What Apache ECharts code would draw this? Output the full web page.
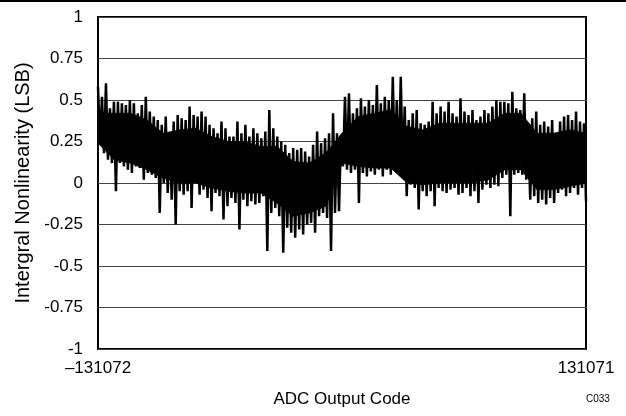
<!DOCTYPE html>
<html>
<head>
<meta charset="utf-8">
<script src="https://cdn.jsdelivr.net/npm/echarts@6/dist/echarts.min.js"></script>
<style>
  html, body { margin: 0; padding: 0; background: #fff; }
  #CajaGrafico { width: 626px; height: 416px; }
</style>
</head>
<body>
<div id="CajaGrafico"></div>
<script>
// code range of the ADC
var codeStart = -131072;
var codeEnd = 131071;
var xTickLabels = ['\u2013131072', '131071'];
var yTicks = [-1, -0.75, -0.5, -0.25, 0, 0.25, 0.5, 0.75, 1];

// INL, upper and lower swing of each short code window (left to right)
var inlHigh = [
  0.58, 0.52, 0.60, 0.45, 0.49, 0.49, 0.48, 0.47, 0.50, 0.48,
  0.42, 0.47, 0.52, 0.43, 0.40, 0.38, 0.35, 0.40, 0.30, 0.37,
  0.41, 0.39, 0.38, 0.46, 0.41, 0.40, 0.43, 0.40, 0.35, 0.33,
  0.30, 0.37, 0.33, 0.28, 0.28, 0.37, 0.30, 0.35, 0.28, 0.33,
  0.30, 0.27, 0.31, 0.44, 0.33, 0.28, 0.25, 0.23, 0.18, 0.21,
  0.20, 0.21, 0.19, 0.16, 0.23, 0.31, 0.24, 0.27, 0.30, 0.42,
  0.30, 0.29, 0.52, 0.54, 0.42, 0.45, 0.51, 0.46, 0.50, 0.47,
  0.59, 0.48, 0.52, 0.50, 0.64, 0.50, 0.64, 0.46, 0.38, 0.42,
  0.44, 0.36, 0.35, 0.37, 0.49, 0.42, 0.46, 0.43, 0.49, 0.42,
  0.40, 0.51, 0.43, 0.41, 0.44, 0.38, 0.40, 0.44, 0.42, 0.46,
  0.50, 0.49, 0.49, 0.48, 0.55, 0.45, 0.44, 0.54, 0.32, 0.39,
  0.43, 0.35, 0.37, 0.34, 0.38, 0.30, 0.37, 0.40, 0.41, 0.38,
  0.43, 0.37, 0.36
];
var inlLow = [
  0.24, 0.18, 0.14, 0.12, -0.05, 0.12, 0.10, 0.08, 0.06, 0.10,
  0.09, 0.02, 0.06, 0.05, 0.03, -0.18, 0.00, -0.06, -0.10, -0.25,
  -0.05, -0.07, -0.05, -0.15, 0.00, -0.07, -0.04, -0.09, -0.17, -0.06,
  -0.08, -0.22, -0.14, -0.09, -0.12, -0.28, -0.10, -0.14, -0.11, -0.13,
  -0.12, -0.08, -0.41, -0.18, -0.15, -0.20, -0.42, -0.27, -0.30, -0.33,
  -0.28, -0.31, -0.25, -0.24, -0.30, -0.20, -0.18, -0.21, -0.41, -0.18,
  -0.17, 0.10, 0.08, 0.06, 0.08, -0.12, 0.06, 0.04, 0.07, 0.05,
  0.08, 0.04, 0.08, 0.05, 0.10, 0.06, 0.08, -0.08, -0.01, -0.03,
  -0.16, -0.05, -0.08, -0.05, -0.14, -0.03, -0.05, -0.06, -0.04, -0.03,
  -0.07, -0.06, -0.03, -0.08, -0.05, -0.12, -0.04, -0.01, -0.03, -0.01,
  -0.02, 0.03, 0.05, -0.20, 0.05, 0.06, 0.05, 0.02, -0.10, -0.08,
  -0.12, -0.10, -0.13, -0.09, -0.12, -0.06, -0.04, -0.08, -0.06, -0.03,
  -0.07, -0.03, -0.11
];

// solid core of the trace (where the noise is dense), coarser windows
var bodyHigh = [
  0.42, 0.42, 0.42, 0.38, 0.30, 0.32, 0.33, 0.28, 0.25, 0.25,
  0.22, 0.22, 0.13, 0.12, 0.18, 0.30, 0.40, 0.42, 0.44, 0.34,
  0.32, 0.36, 0.36, 0.36, 0.36, 0.42, 0.42, 0.30, 0.30, 0.32,
  0.30
];
var bodyLow = [
  0.24, 0.14, 0.12, 0.08, 0.03, 0.00, 0.00, -0.03, -0.05, -0.06,
  -0.06, -0.12, -0.20, -0.18, -0.14, 0.12, 0.10, 0.09, 0.09, 0.00,
  -0.01, 0.00, 0.00, 0.00, 0.02, 0.08, 0.08, -0.04, -0.04, -0.02,
  0.00
];

document.addEventListener('DOMContentLoaded', function () {
    var ChartDOM = document.getElementById('CajaGrafico');
    var myChart = echarts.init(ChartDOM);

    // zig-zag between the two swings, spread over the whole code range
    var nPts = inlHigh.length * 2;
    var step = (codeEnd - codeStart) / (nPts - 1);
    var inlData = [];
    for (var i = 0; i < inlHigh.length; i++) {
        inlData.push([codeStart + 2 * i * step, inlHigh[i]]);
        inlData.push([codeStart + (2 * i + 1) * step, inlLow[i]]);
    }

    var bodyStep = (codeEnd - codeStart) / (bodyHigh.length - 1);
    var bodyData = bodyHigh.map(function (v, i) {
        return [codeStart + i * bodyStep, bodyLow[i], v];
    });

    var fuente = 'Liberation Sans, Arial, sans-serif';

    option = {
        animation: false,
        grid: {
          left: 98,
          right: 40,
          top: 17,
          bottom: 67,
          show: true,
          borderColor: '#000',
          borderWidth: 2,
          backgroundColor: 'transparent'
        },
        xAxis: {
          type: 'value',
          min: codeStart,
          max: codeEnd,
          name: 'ADC Output Code',
          nameLocation: 'middle',
          nameGap: 42,
          nameTextStyle: { fontFamily: fuente, fontSize: 17, color: '#000' },
          axisLine: { show: false },
          axisTick: { show: false },
          splitLine: { show: false },
          axisLabel: {
            customValues: [codeStart, codeEnd],
            formatter: function (v) {
              return v === codeStart ? xTickLabels[0] : xTickLabels[1];
            },
            fontFamily: fuente,
            fontSize: 17,
            color: '#000',
            margin: 11
          }
        },
        yAxis: {
          type: 'value',
          min: yTicks[0],
          max: yTicks[yTicks.length - 1],
          interval: 0.25,
          name: 'Intergral Nonlinearity (LSB)',
          nameLocation: 'middle',
          nameGap: 60,
          nameTextStyle: { fontFamily: fuente, fontSize: 20, color: '#000' },
          axisLine: { show: false },
          axisTick: { show: false },
          splitLine: { show: true, lineStyle: { color: '#444', width: 1 } },
          axisLabel: {
            fontFamily: fuente,
            fontSize: 17,
            color: '#000',
            margin: 15
          }
        },
        graphic: [
          { type: 'rect', left: 0, top: 0, shape: { width: 626, height: 2 }, style: { fill: '#000' } },
          { type: 'text', left: 586, top: 394, style: { text: 'C033', fontFamily: fuente, fontSize: 10, fill: '#000' } }
        ],
        series: [
          {
            // dense core: one quad between each pair of neighbouring windows
            type: 'custom',
            data: bodyData,
            encode: { x: 0, y: [1, 2] },
            silent: true,
            renderItem: function (params, api) {
                var k = params.dataIndex;
                if (k >= bodyData.length - 1) return;
                var a = bodyData[k], b = bodyData[k + 1];
                return {
                    type: 'polygon',
                    shape: {
                        points: [
                            api.coord([a[0], a[2]]),
                            api.coord([b[0], b[2]]),
                            api.coord([b[0], b[1]]),
                            api.coord([a[0], a[1]])
                        ]
                    },
                    style: { fill: '#000', stroke: '#000', lineWidth: 0.8 }
                };
            }
          },
          {
            type: 'line',
            data: inlData,
            showSymbol: false,
            sampling: 'none',
            silent: true,
            z: 3,
            lineStyle: { color: '#000', width: 2.5 }
          }
        ]
    };
    myChart.setOption(option);
    window.addEventListener('resize', function () {
        myChart.resize();
    });
});
</script>
</body>
</html>
